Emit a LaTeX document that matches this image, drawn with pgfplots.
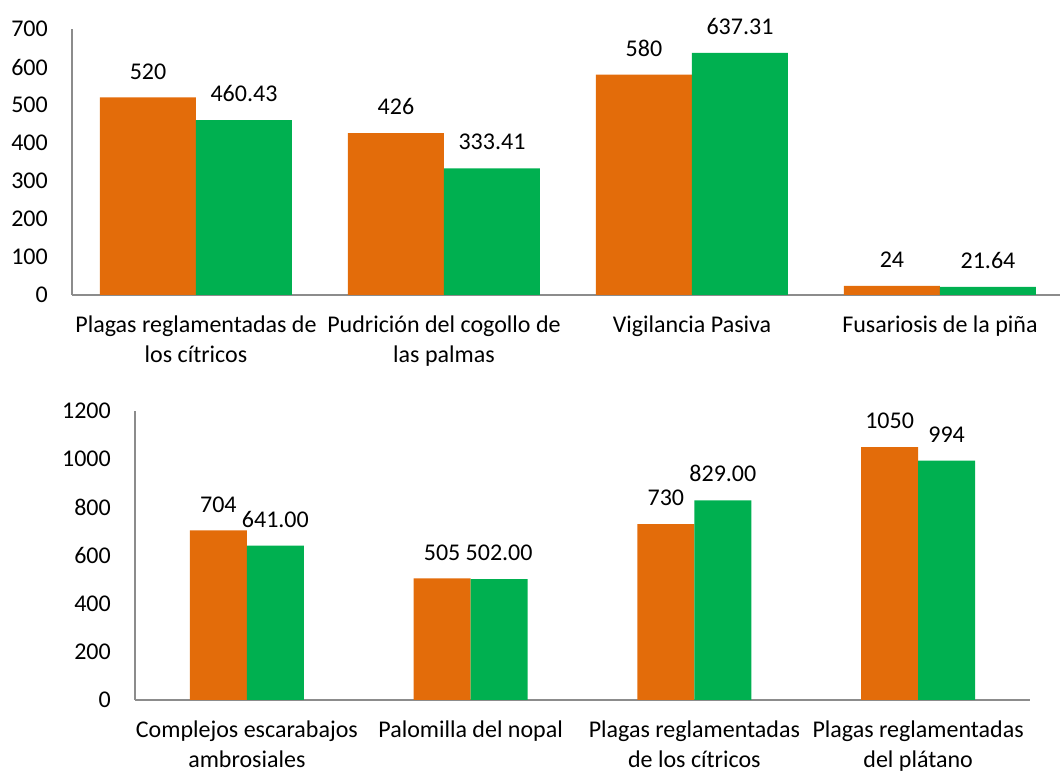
\documentclass[border=0pt]{standalone}
\usepackage{pgfplots}
\pgfplotsset{compat=1.18}
\usepackage{fontspec}
\setmainfont{Carlito}
\definecolor{cOr}{HTML}{E36C0A}
\definecolor{cGr}{HTML}{00B050}
\definecolor{cAx}{HTML}{8C8C8C}
\newcommand{\lblfont}{\fontsize{24}{29.5}\selectfont}
\pgfplotsset{
  mybars/.style={
    scale only axis,
    axis x line*=bottom, axis y line*=left,
    axis line style={draw=cAx, line width=1.5pt, -},
    x axis line style={-}, y axis line style={-},
    major tick length=0pt,
    tick style={draw=none},
    ybar=0pt,
    ymin=0,
    xtick={0,1,2,3},
    xmin=-0.5,
    /pgf/number format/assume math mode=true,
    /pgf/number format/1000 sep={},
    yticklabel style={font=\lblfont, anchor=east, inner sep=0pt, xshift=-24pt},
    xticklabel style={font=\lblfont, align=center, anchor=north, inner sep=0pt, yshift=-21pt},
    point meta=explicit symbolic,
    nodes near coords,
    every node near coord/.append style={font=\lblfont, anchor=south, inner sep=0pt, yshift=18pt, text=black},
  }
}
\begin{document}
\begin{tikzpicture}
\path[use as bounding box] (0,0) rectangle (1060pt,773pt);
\begin{axis}[mybars,
  at={(72pt,478pt)}, anchor=south west,
  width=988pt, height=266pt,
  xmax=3.484, ymax=700,
  ytick={0,100,...,700},
  bar width=96pt,
  xticklabels={{Plagas reglamentadas de\\los cítricos},{Pudrición del cogollo de\\las palmas},{Vigilancia Pasiva},{Fusariosis de la piña}},
]
\addplot[fill=cOr, draw=none] coordinates {(0,520)[520] (1,426)[426] (2,580)[580] (3,24)[24]};
\addplot[fill=cGr, draw=none] coordinates {(0,460.43)[460.43] (1,333.41)[333.41] (2,637.31)[637.31] (3,21.64)[21.64]};
\end{axis}
\begin{axis}[mybars,
  at={(135pt,73pt)}, anchor=south west,
  width=895pt, height=289pt,
  xmax=3.5, ymax=1200,
  ytick={0,200,...,1200},
  bar width=57pt,
  xticklabels={{Complejos escarabajos\\ambrosiales},{Palomilla del nopal},{Plagas reglamentadas\\de los cítricos},{Plagas reglamentadas\\del plátano}},
]
\addplot[fill=cOr, draw=none] coordinates {(0,704)[704] (1,505)[505] (2,730)[730] (3,1050)[1050]};
\addplot[fill=cGr, draw=none] coordinates {(0,641)[641.00] (1,502)[502.00] (2,829)[829.00] (3,994)[994]};
\end{axis}
\end{tikzpicture}
\end{document}
